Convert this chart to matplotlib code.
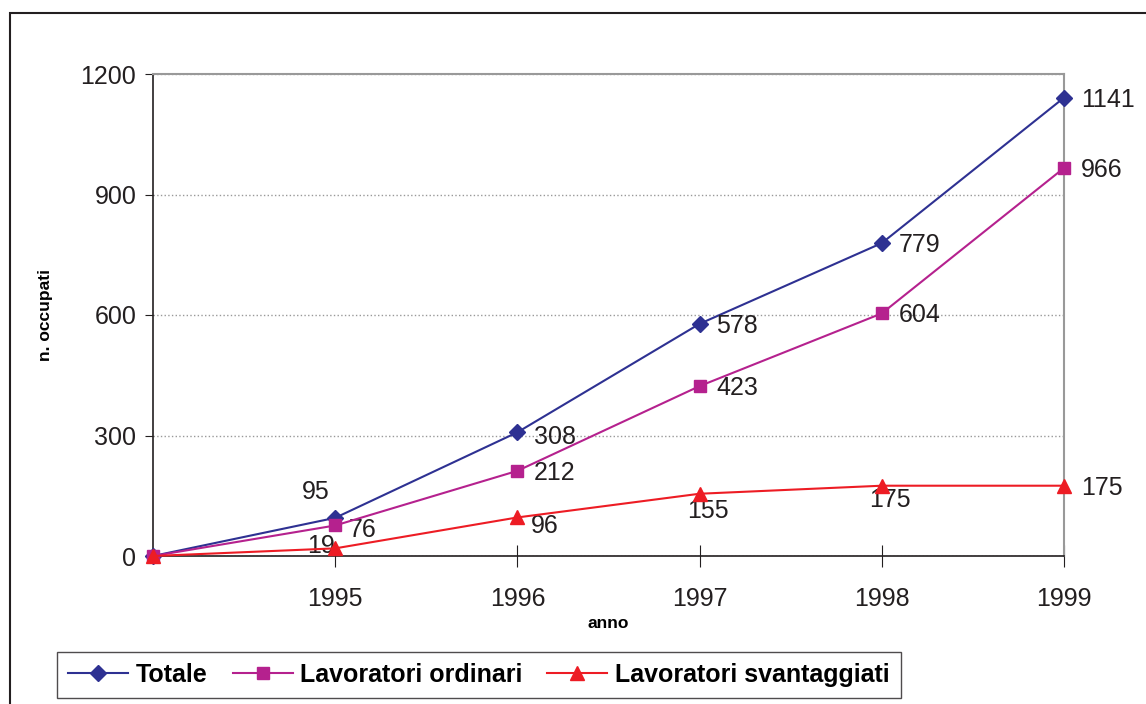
import matplotlib
matplotlib.use('Agg')
import matplotlib.pyplot as plt
from matplotlib.patches import Rectangle

anni = ['', '1995', '1996', '1997', '1998', '1999']
totale = [0, 95, 308, 578, 779, 1141]
ordinari = [0, 76, 212, 423, 604, 966]
svantaggiati = [0, 19, 96, 155, 175, 175]

plt.rcParams['font.family'] = ['Liberation Sans', 'DejaVu Sans']

W, H = 1146, 704
fig = plt.figure(figsize=(W / 100, H / 100), dpi=100)
ax = fig.add_axes([153 / W, 1 - 556 / H, (1064 - 153) / W, (556 - 74) / H])

x = list(range(len(anni)))
c_tot, c_ord, c_sva = '#2e3192', '#b5218e', '#ed1c24'
ax.plot(x, totale, color=c_tot, lw=1.5, marker='D', ms=8, label='Totale', clip_on=False, zorder=3)
ax.plot(x, ordinari, color=c_ord, lw=1.5, marker='s', ms=9, label='Lavoratori ordinari', clip_on=False, zorder=4)
ax.plot(x, svantaggiati, color=c_sva, lw=1.5, marker='^', ms=10, label='Lavoratori svantaggiati', clip_on=False, zorder=5)

fs = 18
# etichette dati (offset in punti)
off_tot = [None, (-24, 10), (12, -12), (12, -10), (12, -10), (12, -10)]
off_ord = [None, (10, -12), (12, -10), (12, -10), (12, -10), (12, -10)]
off_sva = [None, (-20, -7), (10, -15), (-9, -21), (-9, -19), (12, -10)]
for vals, offs in [(totale, off_tot), (ordinari, off_ord), (svantaggiati, off_sva)]:
    for i, v in enumerate(vals):
        if offs[i] is None:
            continue
        ax.annotate(str(v), (x[i], v), xytext=offs[i], textcoords='offset points',
                    fontsize=fs, color='#231f20', ha='left', va='bottom',
                    annotation_clip=False)

ax.set_xlim(0, 5)
ax.set_ylim(0, 1200)
ax.set_yticks([0, 300, 600, 900, 1200])
ax.set_xticks(x[1:])
ax.set_xticklabels(anni[1:])
ax.tick_params(axis='y', direction='out', length=6, labelsize=fs, colors='#231f20', pad=6)
ax.tick_params(axis='x', direction='inout', length=16, labelsize=fs, colors='#231f20', pad=14)
ax.yaxis.grid(True, linestyle=':', color='#999999', lw=1)
ax.set_axisbelow(True)
for s in ['left', 'bottom']:
    ax.spines[s].set_color('#231f20')
    ax.spines[s].set_linewidth(1.2)
for s in ['top', 'right']:
    ax.spines[s].set_color('#999999')
    ax.spines[s].set_linewidth(1.5)

ax.set_ylabel('n. occupati', fontsize=12.5, fontweight='bold', labelpad=20)
ax.set_xlabel('anno', fontsize=12.5, fontweight='bold', labelpad=4)

leg = fig.legend(loc='lower left', bbox_to_anchor=(57 / W, 1 - 698 / H), ncol=3,
                 prop={'weight': 'bold', 'size': 18}, borderaxespad=0,
                 frameon=True, fancybox=False, edgecolor='#231f20', handlelength=2.4,
                 columnspacing=1.0, handletextpad=0.3, borderpad=0.45)
leg.get_frame().set_linewidth(1.0)

fig.patches.append(Rectangle((10 / W, -0.1), 1.2, 1 - 13 / H + 0.1, transform=fig.transFigure,
                             fill=False, edgecolor='#231f20', lw=1.5))

fig.savefig('out.png', dpi=100)
